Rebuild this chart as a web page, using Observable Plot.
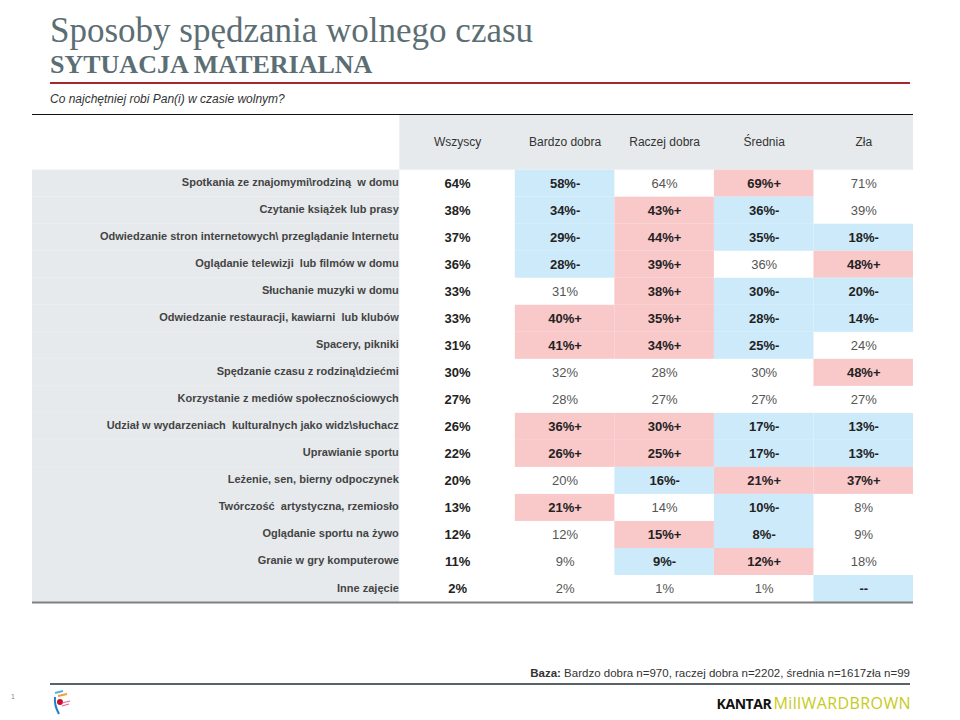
<!DOCTYPE html>
<html>
<head>
<meta charset="utf-8">
<script src="https://cdn.jsdelivr.net/npm/d3@7"></script>
<script src="https://cdn.jsdelivr.net/npm/@observablehq/plot@0.6"></script>
<style>
  html, body { margin: 0; padding: 0; background: #fff; }
  #page { position: relative; width: 960px; height: 720px; overflow: hidden; font-family: "Liberation Sans", Arial, sans-serif; }
  .abs { position: absolute; white-space: nowrap; }
  #title { left: 50px; top: 9px; font-family: "Liberation Serif", Georgia, serif; font-size: 35px; color: #5B6E74; line-height: 44px; }
  #subtitle2 { left: 50px; top: 50px; font-family: "Liberation Serif", Georgia, serif; font-size: 26px; font-weight: bold; color: #5B6E74; line-height: 30px; }
  #redline { left: 50px; top: 82px; width: 860px; height: 2px; background: #A5282B; }
  #question { left: 50px; top: 91px; font-size: 12px; font-style: italic; color: #333; line-height: 16px; }
  #chart { left: 0px; top: 113px; }
  #baza { left: 0px; width: 910px; text-align: right; top: 666px; font-size: 11.5px; color: #333; line-height: 14px; }
  #footline { left: 50px; top: 683px; width: 860px; height: 1.5px; background: #5a6468; }
  #pagenum { left: 11px; top: 693px; font-size: 7px; color: #888; }
  #logo { left: 0px; width: 911px; text-align: right; top: 693px; font-family: "Open Sans", "Liberation Sans", sans-serif; line-height: 20px; }
</style>
</head>
<body>
<div id="page">
  <div id="title" class="abs">Sposoby spędzania wolnego czasu</div>
  <div id="subtitle2" class="abs">SYTUACJA MATERIALNA</div>
  <div id="redline" class="abs"></div>
  <div id="question" class="abs">Co najchętniej robi Pan(i) w czasie wolnym?</div>
  <div id="chart" class="abs"></div>
  <div id="baza" class="abs"><b>Baza:</b> Bardzo dobra n=970, raczej dobra n=2202, średnia n=1617zła n=99</div>
  <div id="footline" class="abs"></div>
  <div id="pagenum" class="abs">1</div>
  <svg class="abs" style="left:50px;top:689px" width="24" height="28" viewBox="0 0 24 28">
    <path d="M5 4 L13 2" stroke="#4fb3e8" stroke-width="2" fill="none"/>
    <path d="M8 7 L17 5" stroke="#f0a030" stroke-width="2" fill="none"/>
    <circle cx="10" cy="13" r="3" fill="#c8102e"/>
    <path d="M12 14 L20 12 M12 17 L19 15" stroke="#e06a8a" stroke-width="1.2" fill="none"/>
    <path d="M5 8 Q4 16 9 25" stroke="#1f7fc4" stroke-width="2" fill="none"/>
  </svg>
  <div id="logo" class="abs"><span style="font-size:14px;font-weight:700;color:#111;letter-spacing:-0.4px">KANTAR</span><span style="font-size:16px;font-weight:400;color:#C6CB20;letter-spacing:0.4px;margin-left:2px">MillWARDBROWN</span></div>
</div>
<script>
// ---- data ----
const columns = ["Wszyscy", "Bardzo dobra", "Raczej dobra", "Średnia", "Zła"];
const activities = [
  "Spotkania ze znajomymi\\rodziną  w domu",
  "Czytanie książek lub prasy",
  "Odwiedzanie stron internetowych\\ przeglądanie Internetu",
  "Oglądanie telewizji  lub filmów w domu",
  "Słuchanie muzyki w domu",
  "Odwiedzanie restauracji, kawiarni  lub klubów",
  "Spacery, pikniki",
  "Spędzanie czasu z rodziną\\dziećmi",
  "Korzystanie z mediów społecznościowych",
  "Udział w wydarzeniach  kulturalnych jako widz\\słuchacz",
  "Uprawianie sportu",
  "Leżenie, sen, bierny odpoczynek",
  "Twórczość  artystyczna, rzemiosło",
  "Oglądanie sportu na żywo",
  "Granie w gry komputerowe",
  "Inne zajęcie"
];
const wszyscy     = [64, 38, 37, 36, 33, 33, 31, 30, 27, 26, 22, 20, 13, 12, 11, 2];
const bardzoDobra = [58, 34, 29, 28, 31, 40, 41, 32, 28, 36, 26, 20, 21, 12, 9, 2];
const raczejDobra = [64, 43, 44, 39, 38, 35, 34, 28, 27, 30, 25, 16, 14, 15, 9, 1];
const srednia     = [69, 36, 35, 36, 30, 28, 25, 30, 27, 17, 17, 21, 10, 8, 12, 1];
const zla         = [71, 39, 18, 48, 20, 14, 24, 48, 27, 13, 13, 37, 8, 9, 18, null];
// significance markers (+ higher / - lower than total)
const wszyscySig     = ["", "", "", "", "", "", "", "", "", "", "", "", "", "", "", ""];
const bardzoDobraSig = ["-", "-", "-", "-", "", "+", "+", "", "", "+", "+", "", "+", "", "", ""];
const raczejDobraSig = ["", "+", "+", "+", "+", "+", "+", "", "", "+", "+", "-", "", "+", "-", ""];
const sredniaSig     = ["+", "-", "-", "", "-", "-", "-", "", "", "-", "-", "+", "-", "-", "+", ""];
const zlaSig         = ["", "", "-", "+", "-", "-", "", "+", "", "-", "-", "+", "", "", "", "-"];

// ---- table build ----
const values = [wszyscy, bardzoDobra, raczejDobra, srednia, zla];
const sigs = [wszyscySig, bardzoDobraSig, raczejDobraSig, sredniaSig, zlaSig];

// layout (column widths in units of one data column)
const layout = { labelW: 3.69, firstW: 1.16, otherW: 1, headerH: 2.06 };
const colX1 = columns.map((c, j) => layout.labelW + (j === 0 ? 0 : layout.firstW + (j - 1) * layout.otherW));
const colX2 = columns.map((c, j) => colX1[j] + (j === 0 ? layout.firstW : layout.otherW));
const totalW = colX2[colX2.length - 1];
const nRows = activities.length;

const rows = activities.map((a, i) => ({ activity: a, i }));
const cells = [];
values.forEach((arr, j) => arr.forEach((v, i) => {
  const sig = sigs[j][i];
  cells.push({
    i, j, sig,
    x1: colX1[j], x2: colX2[j], xm: (colX1[j] + colX2[j]) / 2,
    label: v == null ? "--" : v + "%" + sig,
    bold: j === 0 || sig !== ""
  });
}));
const headers = columns.map((c, j) => ({ c, xm: (colX1[j] + colX2[j]) / 2 }));

const PINK = "#F9C8C9", BLUE = "#CCEAFA", GRAY = "#E6EAEC";
const FONT = '"Liberation Sans", Arial, sans-serif';

const chart = Plot.plot({
  width: 960,
  height: 491,
  marginTop: 1, marginBottom: 2, marginLeft: 32, marginRight: 47,
  x: { type: "linear", domain: [0, totalW], axis: null },
  y: { type: "linear", domain: [nRows, -layout.headerH], axis: null },
  style: { fontFamily: FONT, background: "transparent" },
  marks: [
    Plot.rect(rows, { x1: 0, x2: layout.labelW, y1: d => d.i, y2: d => d.i + 1, fill: GRAY }),
    Plot.rect([0], { x1: layout.labelW, x2: totalW, y1: -layout.headerH, y2: 0, fill: GRAY }),
    Plot.rect(cells.filter(d => d.sig !== ""), {
      x1: "x1", x2: "x2", y1: d => d.i, y2: d => d.i + 1,
      fill: d => d.sig === "+" ? PINK : BLUE
    }),
    Plot.text(headers, { x: "xm", y: -layout.headerH / 2, text: "c", fontSize: 12, fill: "#333" }),
    Plot.text(rows, { x: layout.labelW, y: d => d.i + 0.5, text: "activity", textAnchor: "end", dx: -1, dy: -1, fontSize: 11, fontWeight: "bold", fill: "#444" }),
    Plot.text(cells.filter(d => d.bold), { x: "xm", y: d => d.i + 0.5, text: "label", fontSize: 13, fontWeight: "bold", fill: "#222" }),
    Plot.text(cells.filter(d => !d.bold), { x: "xm", y: d => d.i + 0.5, text: "label", fontSize: 13, fill: "#555" }),
    Plot.ruleY([-layout.headerH], { x1: 0, x2: totalW, stroke: "#111", strokeWidth: 1.2 }),
    Plot.ruleY([nRows], { x1: 0, x2: totalW, stroke: "#808080", strokeWidth: 2 })
  ]
});
document.getElementById("chart").appendChild(chart);
</script>
</body>
</html>
